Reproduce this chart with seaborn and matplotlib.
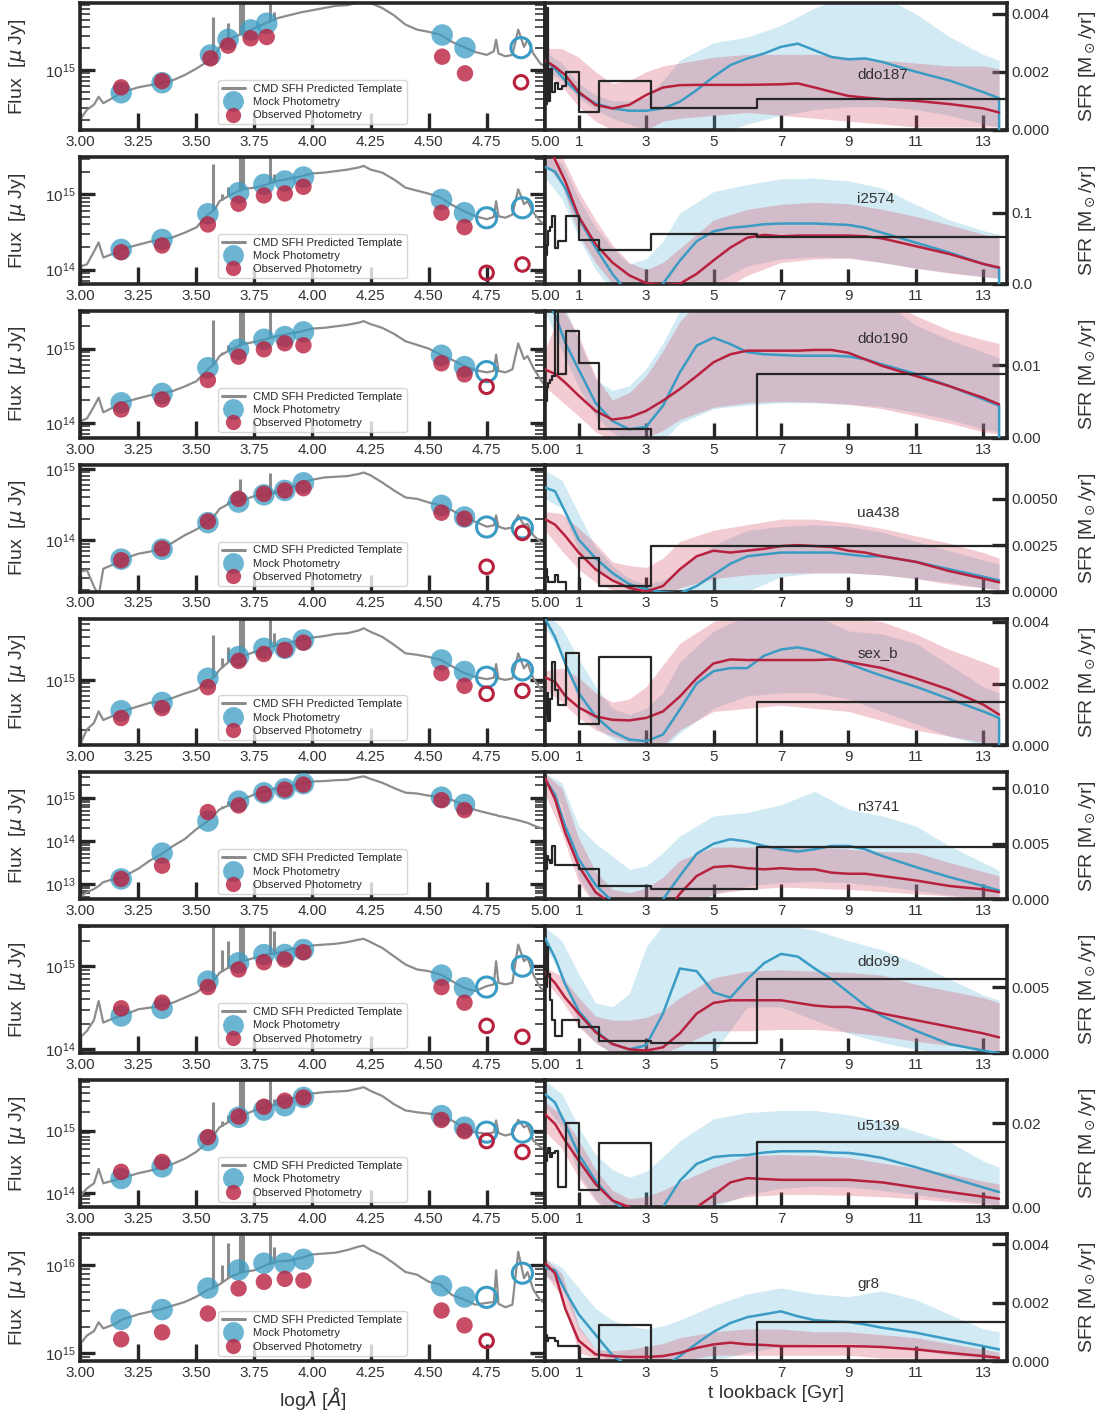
import numpy as np
import matplotlib
matplotlib.use("Agg")
import matplotlib.pyplot as plt
from matplotlib.lines import Line2D
from matplotlib.ticker import LogLocator, NullFormatter, FormatStrFormatter
import seaborn as sns

# ---------------------------------------------------------------- data
galaxies = ["ddo187", "i2574", "ddo190", "ua438", "sex_b", "n3741", "ddo99", "u5139", "gr8"]

# photometric band centres, log10(lambda / Angstrom)
bands_std = [3.177, 3.353, 3.550, 3.682, 3.791, 3.881, 3.961, 4.555, 4.654, 4.749, 4.903]
bands_ddo187 = [3.177, 3.353, 3.561, 3.637, 3.734, 3.803, 4.558, 4.656, 4.897]

# template wavelength grid (log10 Angstrom) and emission-line positions
sed_grid = [3.00, 3.03, 3.06, 3.08, 3.10, 3.15, 3.18, 3.25, 3.30, 3.35, 3.40, 3.45, 3.50,
            3.55, 3.58, 3.60, 3.65, 3.70, 3.75, 3.80, 3.85, 3.90, 3.95, 4.00, 4.05, 4.10,
            4.15, 4.20, 4.22, 4.25, 4.30, 4.35, 4.40, 4.45, 4.50, 4.55, 4.60, 4.65, 4.70,
            4.75, 4.78, 4.79, 4.80, 4.83, 4.86, 4.885, 4.91, 4.925, 4.95, 4.98, 5.00]
line_wave = [3.571, 3.612, 3.638, 3.687, 3.700, 3.817, 3.835]

# lookback-time grids (Gyr)
t_med = [0, 0.3, 0.6, 1, 1.5, 2, 2.5, 3, 3.5, 4, 4.5, 5, 5.5, 6, 6.5, 7, 7.5, 8, 8.5, 9,
         9.5, 10, 11, 12, 13, 13.47]
t_band = [0, 0.5, 1, 1.5, 2, 2.5, 3, 3.5, 4, 5, 6, 7, 8, 9, 10, 11, 12, 13, 13.47]
cmd_edges = [0, 0.05, 0.1, 0.15, 0.2, 0.3, 0.4, 0.5, 0.63, 0.8, 1.0, 1.6, 3.16, 6.3, 14.1]

# --- ddo187
ddo187_sed = [14.31, 14.45, 14.52, 14.63, 14.54, 14.63, 14.69, 14.76, 14.79, 14.82, 14.86, 14.93, 15.02,
              15.12, 15.19, 15.32, 15.44, 15.51, 15.58, 15.65, 15.72, 15.76, 15.80, 15.83, 15.86, 15.89,
              15.90, 15.94, 15.95, 15.93, 15.86, 15.76, 15.63, 15.56, 15.53, 15.49, 15.39, 15.32, 15.25,
              15.21, 15.26, 15.42, 15.23, 15.19, 15.21, 15.56, 15.32, 15.42, 15.23, 15.09, 15.05]
ddo187_lines = [15.74, 15.35, 15.65, 16.0, 16.0, 16.0, 15.81]
ddo187_mock = [14.685, 14.824, 15.208, 15.426, 15.556, 15.648, 15.486, 15.31, 15.31]
ddo187_obs = [14.76, 14.847, 15.162, 15.338, 15.44, 15.458, 15.185, 14.954, 14.83]
ddo187_cmd = [0.0009, 0.0042, 0.0010, 0.0021, 0.0013, 0.0016, 0.0014, 0.0015, 0.0020, 0.0020,
              0.00063, 0.0017, 0.00074, 0.00106]
ddo187_blue_med = [0.0024, 0.0021, 0.0017, 0.00126, 0.00091, 0.00074, 0.00066, 0.00066, 0.00074, 0.00097,
                   0.00137, 0.00183, 0.00223, 0.00246, 0.00263, 0.00286, 0.00297, 0.00274, 0.00251, 0.00243,
                   0.00246, 0.00234, 0.0020, 0.0017, 0.0013, 0.00109]
ddo187_red_med = [0.0024, 0.00217, 0.00189, 0.00131, 0.00086, 0.00074, 0.00086, 0.0012, 0.00146, 0.00154,
                  0.00155, 0.00155, 0.00155, 0.00155, 0.00156, 0.00157, 0.0016, 0.00146, 0.00131, 0.00117,
                  0.00111, 0.00106, 0.001, 0.00089, 0.00074, 0.0006]
ddo187_blue_lo = [0.0021, 0.0017, 0.0011, 0.0007, 0.0004, 0.0002, 0.0, -0.0003, -0.0004, -0.0002,
                  0.0002, 0.0005, 0.0007, 0.0008, 0.0008, 0.0007, 0.0005, 0.0002, 0.0001]
ddo187_blue_hi = [0.0027, 0.0023, 0.0016, 0.0012, 0.0010, 0.0010, 0.0011, 0.0017, 0.0024, 0.0030,
                  0.0032, 0.0036, 0.0042, 0.0046, 0.0046, 0.0040, 0.0032, 0.0026, 0.0024]
ddo187_red_lo = [0.0020, 0.0015, 0.0008, 0.0003, 0.0, -0.0001, 0.0, 0.0003, 0.0004, 0.0005,
                 0.0006, 0.0005, 0.0004, 0.0003, 0.0002, 0.0001, 0.0001, 0.0001, 0.0001]
ddo187_red_hi = [0.0028, 0.0028, 0.0025, 0.0020, 0.0016, 0.0017, 0.0020, 0.0022, 0.0023, 0.0025,
                 0.0026, 0.0026, 0.0026, 0.0025, 0.0024, 0.0023, 0.0022, 0.0022, 0.0021]

# --- i2574
i2574_sed = [14.04, 14.07, 14.24, 14.36, 14.16, 14.22, 14.27, 14.33, 14.37, 14.40, 14.43, 14.49, 14.56,
             14.73, 14.80, 14.91, 15.00, 15.07, 15.09, 15.13, 15.18, 15.21, 15.24, 15.28, 15.29, 15.31,
             15.33, 15.36, 15.38, 15.33, 15.29, 15.20, 15.09, 15.05, 15.01, 14.96, 14.86, 14.78, 14.71,
             14.67, 14.70, 14.91, 14.71, 14.69, 14.73, 15.07, 14.87, 14.91, 14.76, 14.64, 14.60]
i2574_lines = [15.40, 15.00, 15.10, 15.60, 15.60, 15.60, 15.27]
i2574_mock = [14.267, 14.40, 14.742, 15.022, 15.133, 15.178, 15.231, 14.933, 14.756, 14.689, 14.822]
i2574_obs = [14.231, 14.32, 14.60, 14.876, 14.987, 15.013, 15.102, 14.756, 14.564, 13.956, 14.067]
i2574_cmd = [0.04, 0.055, 0.075, 0.08, 0.095, 0.05, 0.06, 0.06, 0.095, 0.095, 0.0614, 0.0474, 0.0707, 0.066]
i2574_blue_med = [0.165, 0.158, 0.135, 0.093, 0.051, 0.014, -0.015, -0.02, 0.0, 0.0326, 0.06, 0.074, 0.079,
                  0.081, 0.084, 0.085, 0.085, 0.085, 0.084, 0.083, 0.079, 0.072, 0.058, 0.044, 0.028, 0.022]
i2574_red_med = [0.2, 0.175, 0.145, 0.095, 0.056, 0.03, 0.012, 0.001, -0.002, 0.0, 0.014, 0.033, 0.051,
                 0.065, 0.069, 0.067, 0.068, 0.068, 0.068, 0.068, 0.067, 0.064, 0.053, 0.042, 0.028, 0.023]
i2574_blue_lo = [0.15, 0.12, 0.065, 0.02, -0.01, -0.03, -0.035, -0.03, -0.02, 0.0, 0.025, 0.035, 0.038,
                 0.037, 0.03, 0.022, 0.016, 0.01, 0.008]
i2574_blue_hi = [0.18, 0.17, 0.12, 0.08, 0.05, 0.028, 0.035, 0.06, 0.10, 0.13, 0.14, 0.148, 0.149, 0.145,
                 0.135, 0.112, 0.09, 0.075, 0.07]
i2574_red_lo = [0.17, 0.14, 0.07, 0.03, 0.0, -0.02, -0.03, -0.035, -0.04, -0.015, 0.012, 0.03, 0.035,
                0.036, 0.03, 0.022, 0.015, 0.01, 0.008]
i2574_red_hi = [0.2, 0.18, 0.13, 0.09, 0.055, 0.03, 0.02, 0.03, 0.05, 0.09, 0.105, 0.112, 0.115, 0.113,
                0.105, 0.095, 0.083, 0.07, 0.065]

# --- ddo190
ddo190_sed = [14.02, 14.06, 14.22, 14.34, 14.14, 14.22, 14.27, 14.33, 14.37, 14.40, 14.43, 14.49, 14.56,
              14.72, 14.80, 14.90, 14.99, 15.06, 15.09, 15.13, 15.17, 15.20, 15.23, 15.27, 15.28, 15.30,
              15.32, 15.35, 15.37, 15.33, 15.28, 15.20, 15.10, 15.05, 15.00, 14.92, 14.85, 14.77, 14.71,
              14.68, 14.70, 14.92, 14.70, 14.68, 14.72, 15.07, 14.86, 14.90, 14.74, 14.59, 14.50]
ddo190_lines = [15.38, 14.95, 15.05, 15.55, 15.55, 15.55, 15.10]
ddo190_mock = [14.27, 14.396, 14.743, 14.991, 15.126, 15.162, 15.225, 14.91, 14.757, 14.69, np.nan]
ddo190_obs = [14.18, 14.315, 14.577, 14.892, 14.991, 15.072, 15.045, 14.802, 14.653, 14.486, np.nan]
ddo190_cmd = [0.005, 0.007, 0.0075, 0.008, 0.0085, 0.0174, 0.0088, 0.0088, 0.0147, 0.0147, 0.0103,
              0.00115, 0.0, 0.0088]
ddo190_blue_med = [0.019, 0.017, 0.0131, 0.0094, 0.0048, 0.0023, 0.00115, 0.0015, 0.0044, 0.009, 0.0127,
                   0.0138, 0.0129, 0.0118, 0.0115, 0.0114, 0.0113, 0.0113, 0.0113, 0.0112, 0.0108, 0.0101,
                   0.0088, 0.0071, 0.0053, 0.0044]
ddo190_red_med = [0.0094, 0.0088, 0.0076, 0.0058, 0.0037, 0.0025, 0.0028, 0.0037, 0.0051, 0.0067, 0.0085,
                  0.0104, 0.0115, 0.012, 0.012, 0.012, 0.012, 0.0121, 0.0121, 0.0117, 0.0108, 0.0099,
                  0.0085, 0.0071, 0.0055, 0.0046]
ddo190_blue_lo = [0.0175, 0.012, 0.007, 0.003, 0.0007, -0.0005, -0.0015, -0.0005, 0.002, 0.004, 0.0045,
                  0.0048, 0.0048, 0.0046, 0.0043, 0.0035, 0.0025, 0.0012, 0.0008]
ddo190_blue_hi = [0.02, 0.019, 0.0135, 0.008, 0.0065, 0.0072, 0.0095, 0.013, 0.0175, 0.021, 0.021, 0.021,
                  0.021, 0.021, 0.019, 0.0155, 0.0135, 0.0118, 0.011]
ddo190_red_lo = [0.007, 0.005, 0.003, 0.0008, -0.0003, -0.0005, 0.0, 0.001, 0.0025, 0.0042, 0.0048, 0.005,
                 0.0049, 0.0046, 0.004, 0.003, 0.002, 0.0008, 0.0005]
ddo190_red_hi = [0.012, 0.018, 0.014, 0.0085, 0.0052, 0.0062, 0.0085, 0.012, 0.016, 0.021, 0.021, 0.021,
                 0.021, 0.021, 0.0195, 0.0168, 0.0148, 0.0135, 0.013]

# --- ua438
ua438_sed = [13.56, 13.58, 13.35, 13.22, 13.60, 13.67, 13.73, 13.81, 13.84, 13.88, 13.97, 14.07, 14.15,
             14.26, 14.35, 14.44, 14.53, 14.56, 14.62, 14.64, 14.67, 14.73, 14.80, 14.85, 14.88, 14.89,
             14.90, 14.93, 14.95, 14.91, 14.81, 14.70, 14.60, 14.58, 14.53, 14.49, 14.42, 14.33, 14.26,
             14.19, 14.21, 14.35, 14.19, 14.16, 14.18, 14.35, 14.21, 14.23, 14.07, 13.98, 13.93]
ua438_lines = [14.32, 14.46, 14.55, 14.86, 14.62, 14.95, 14.70]
ua438_mock = [13.735, 13.874, 14.247, 14.535, 14.637, 14.698, 14.805, 14.488, 14.326, 14.186, 14.172]
ua438_obs = [13.72, 13.884, 14.265, 14.581, 14.651, 14.698, 14.73, 14.386, 14.302, 13.628, 14.102]
ua438_cmd = [0.0012, 0.0008, 0.0005, 0.0005, 0.0005, 0.0009, 0.0005, 0.0005, 0.0, 0.0, 0.0018,
             0.00032, 0.00245, 0.00245]
ua438_blue_med = [0.0056, 0.0054, 0.0043, 0.0028, 0.0018, 0.001, 0.0004, 0.00014, -0.00004, -0.0001,
                  0.0003, 0.0009, 0.0015, 0.0019, 0.002, 0.0021, 0.0021, 0.0021, 0.0021, 0.002, 0.0019,
                  0.0019, 0.0016, 0.0012, 0.0008, 0.0006]
ua438_red_med = [0.0039, 0.0036, 0.003, 0.0021, 0.0012, 0.0006, 0.0002, 0.0, 0.0003, 0.0012, 0.0019,
                 0.0022, 0.0021, 0.0022, 0.0023, 0.00245, 0.0025, 0.00245, 0.0024, 0.0022, 0.0021, 0.0019,
                 0.0016, 0.0011, 0.0007, 0.0005]
ua438_blue_lo = [0.005, 0.0045, 0.0022, 0.0012, 0.0006, 0.0001, -0.0002, -0.0008, -0.001, -0.0004, 0.0,
                 0.0008, 0.001, 0.001, 0.0009, 0.0007, 0.0005, 0.0002, 0.0001]
ua438_blue_hi = [0.0065, 0.006, 0.0042, 0.0024, 0.0014, 0.0007, 0.0004, 0.0006, 0.0012, 0.0025, 0.0033,
                 0.0035, 0.0036, 0.0035, 0.0032, 0.0027, 0.0022, 0.0017, 0.0015]
ua438_red_lo = [0.0033, 0.0022, 0.0012, 0.0005, 0.0001, -0.0002, -0.0003, -0.0002, 0.0002, 0.0007, 0.0009,
                0.001, 0.001, 0.001, 0.0009, 0.0007, 0.0004, 0.0002, 0.0001]
ua438_red_hi = [0.0043, 0.0042, 0.0034, 0.0026, 0.0016, 0.0014, 0.0013, 0.0018, 0.0027, 0.0033, 0.0036,
                0.0039, 0.0039, 0.0037, 0.0034, 0.003, 0.0026, 0.0021, 0.0018]

# --- sex_b
sex_b_sed = [14.10, 14.31, 14.40, 14.56, 14.44, 14.51, 14.56, 14.63, 14.68, 14.70, 14.75, 14.81, 14.86,
             14.98, 15.05, 15.14, 15.28, 15.33, 15.39, 15.44, 15.49, 15.52, 15.56, 15.59, 15.61, 15.64,
             15.65, 15.69, 15.72, 15.67, 15.60, 15.49, 15.37, 15.35, 15.32, 15.28, 15.19, 15.10, 15.04,
             15.01, 15.03, 15.22, 15.02, 15.00, 15.02, 15.37, 15.16, 15.23, 15.02, 14.88, 14.84]
sex_b_lines = [15.63, 15.30, 15.46, 15.90, 15.90, 15.90, 15.65]
sex_b_mock = [14.569, 14.685, 15.023, 15.324, 15.44, 15.44, 15.556, 15.278, 15.116, 15.037, 15.139]
sex_b_obs = [14.468, 14.606, 14.898, 15.264, 15.361, 15.417, 15.519, 15.093, 14.917, 14.806, 14.847]
sex_b_cmd = [0.0010, 0.0017, 0.0008, 0.0015, 0.0027, 0.0018, 0.0013, 0.0013, 0.0030, 0.0030, 0.0007,
             0.00287, 0.0, 0.00142]
sex_b_blue_med = [0.0041, 0.0035, 0.00265, 0.0017, 0.00094, 0.00046, 0.00019, 0.00014, 0.00035, 0.00116,
                  0.002, 0.0024, 0.0025, 0.0025, 0.0029, 0.0031, 0.00317, 0.00306, 0.00287, 0.00265,
                  0.00244, 0.00225, 0.0019, 0.0015, 0.0011, 0.00089]
sex_b_red_med = [0.0022, 0.00206, 0.0016, 0.00123, 0.00094, 0.00083, 0.00081, 0.00089, 0.0011, 0.00158,
                 0.00217, 0.00265, 0.00278, 0.00276, 0.00276, 0.00276, 0.00276, 0.00276, 0.00278, 0.0027,
                 0.0026, 0.0025, 0.00217, 0.0018, 0.00132, 0.001]
sex_b_blue_lo = [0.0038, 0.003, 0.0014, 0.0006, 0.0002, -0.0001, -0.0002, -0.0001, 0.0004, 0.0012, 0.0016,
                 0.0017, 0.0017, 0.0015, 0.0011, 0.0007, 0.0003, 0.0, 0.0]
sex_b_blue_hi = [0.0043, 0.0038, 0.0028, 0.0019, 0.0012, 0.001, 0.0012, 0.0017, 0.0027, 0.0037, 0.0042,
                 0.0044, 0.0042, 0.0037, 0.0036, 0.0033, 0.0026, 0.0019, 0.0017]
sex_b_red_lo = [0.0018, 0.0014, 0.0009, 0.0005, 0.0003, 0.0001, 0.0, 0.0, 0.0005, 0.0011, 0.0012, 0.0013,
                0.0012, 0.0011, 0.0008, 0.0005, 0.0003, 0.0001, 0.0]
sex_b_red_hi = [0.0024, 0.0025, 0.0022, 0.0017, 0.0014, 0.0015, 0.0019, 0.0026, 0.0033, 0.004, 0.0043,
                0.0043, 0.0042, 0.0041, 0.004, 0.0036, 0.0031, 0.0027, 0.0025]

# --- n3741
n3741_sed = [12.69, 12.81, 12.88, 12.95, 13.04, 13.12, 13.15, 13.35, 13.54, 13.69, 13.88, 14.04, 14.27,
             14.46, 14.62, 14.73, 14.85, 14.96, 15.08, 15.15, 15.23, 15.27, 15.33, 15.38, 15.39, 15.41,
             15.42, 15.48, 15.50, 15.44, 15.35, 15.23, 15.12, 15.10, 15.05, 15.02, 14.95, 14.84, 14.72,
             14.65, 14.61, 14.60, 14.58, 14.55, 14.51, 14.48, 14.44, 14.42, 14.36, 14.30, 14.27]
n3741_lines = [14.55, 14.80, 14.92, 15.05, 15.00, 15.20, 15.25]
n3741_mock = [13.115, 13.715, 14.46, 14.923, 15.115, 15.208, 15.33, 15.015, 14.846, np.nan, np.nan]
n3741_obs = [13.115, 13.423, 14.669, 14.823, 15.092, 15.192, 15.308, 14.946, 14.715, np.nan, np.nan]
n3741_cmd = [0.0027, 0.0039, 0.0035, 0.0033, 0.0048, 0.0031, 0.0031, 0.0031, 0.0031, 0.0031, 0.0027,
             0.0012, 0.0009, 0.0047]
n3741_blue_med = [0.0108, 0.0094, 0.0066, 0.0036, 0.0013, -0.0002, -0.0011, -0.0012, 0.0, 0.0021, 0.0041,
                  0.005, 0.0054, 0.0052, 0.0048, 0.0045, 0.0043, 0.0045, 0.0048, 0.0048, 0.0045, 0.0039,
                  0.0029, 0.002, 0.0012, 0.0008]
n3741_red_med = [0.0109, 0.009, 0.006, 0.003, 0.00065, -0.0005, -0.0015, -0.0018, -0.0015, 0.0005, 0.0021,
                 0.0029, 0.003, 0.0028, 0.0027, 0.0028, 0.0027, 0.0027, 0.0024, 0.0023, 0.0023, 0.0021,
                 0.0017, 0.0012, 0.0009, 0.00065]
n3741_blue_lo = [0.0105, 0.0085, 0.002, -0.0005, -0.002, -0.002, -0.002, -0.002, -0.002, 0.0005, 0.0012,
                 0.0015, 0.0016, 0.0015, 0.0012, 0.0008, 0.0004, 0.0001, 0.0]
n3741_blue_hi = [0.0113, 0.0105, 0.0066, 0.005, 0.0039, 0.0027, 0.003, 0.0042, 0.0057, 0.0075, 0.0078,
                 0.0085, 0.0097, 0.0081, 0.0075, 0.0066, 0.0048, 0.0033, 0.0026]
n3741_red_lo = [0.0095, 0.006, 0.0015, -0.0005, -0.001, -0.0015, -0.0015, -0.0012, -0.001, 0.0005, 0.0009,
                0.0011, 0.001, 0.0009, 0.0007, 0.0005, 0.0003, 0.0001, 0.0]
n3741_red_hi = [0.0113, 0.01, 0.0055, 0.0025, 0.0009, 0.0006, 0.001, 0.002, 0.0035, 0.0047, 0.0047, 0.0047,
                0.0047, 0.0045, 0.0043, 0.0042, 0.0033, 0.0025, 0.0021]

# --- ddo99
ddo99_sed = [14.14, 14.22, 14.35, 14.58, 14.32, 14.38, 14.40, 14.48, 14.50, 14.52, 14.56, 14.62, 14.68,
             14.78, 14.84, 14.92, 15.00, 15.06, 15.10, 15.14, 15.16, 15.20, 15.22, 15.25, 15.26, 15.27,
             15.29, 15.32, 15.33, 15.29, 15.22, 15.12, 15.02, 14.96, 14.94, 14.90, 14.82, 14.74, 14.70,
             14.76, 14.78, 15.06, 14.80, 14.78, 14.80, 15.26, 15.06, 15.10, 14.90, 14.74, 14.70]
ddo99_lines = [15.48, 15.20, 15.30, 15.48, 15.48, 15.48, 15.42]
ddo99_mock = [14.4, 14.492, 14.82, 15.04, 15.14, 15.14, 15.2, 14.892, 14.74, 14.748, 15.0]
ddo99_obs = [14.492, 14.56, 14.748, 14.96, 15.048, 15.08, 15.168, 14.748, 14.56, 14.28, 14.148]
ddo99_cmd = [0.005, 0.008, 0.006, 0.004, 0.0025, 0.0013, 0.0013, 0.0025, 0.0025, 0.0025, 0.002,
             0.00095, 0.00078, 0.0056]
ddo99_blue_med = [0.0087, 0.0072, 0.0052, 0.0032, 0.0017, 0.0007, 0.0003, 0.0006, 0.003, 0.0064, 0.0062,
                  0.0046, 0.0042, 0.0056, 0.0068, 0.0075, 0.0073, 0.0064, 0.0056, 0.0046, 0.0036, 0.0028,
                  0.0017, 0.0007, 0.0002, 0.0]
ddo99_red_med = [0.0061, 0.0053, 0.0042, 0.003, 0.0016, 0.0007, 0.0003, 0.0002, 0.00045, 0.0015, 0.003,
                 0.0038, 0.004, 0.004, 0.004, 0.004, 0.0038, 0.0036, 0.0035, 0.0035, 0.0033, 0.003, 0.0025,
                 0.002, 0.0015, 0.0012]
ddo99_blue_lo = [0.008, 0.006, 0.0022, 0.0008, 0.0, -0.0005, -0.001, -0.0008, 0.0, 0.0, 0.0035, 0.0035,
                 0.0025, 0.0015, 0.0008, 0.0003, 0.0, -0.0002, -0.0002]
ddo99_blue_hi = [0.0095, 0.0085, 0.006, 0.0038, 0.0035, 0.0045, 0.008, 0.0097, 0.0097, 0.0097, 0.0096,
                 0.0097, 0.0093, 0.0085, 0.0078, 0.0068, 0.0056, 0.0044, 0.004]
ddo99_red_lo = [0.0055, 0.004, 0.002, 0.0008, 0.0, -0.0003, -0.0003, 0.0, 0.0005, 0.0017, 0.0017, 0.0018,
                0.0018, 0.0016, 0.0013, 0.0009, 0.0006, 0.0003, 0.0002]
ddo99_red_hi = [0.0065, 0.0058, 0.0042, 0.0028, 0.0025, 0.0025, 0.0027, 0.0032, 0.0042, 0.0057, 0.0062,
                0.0063, 0.0062, 0.0061, 0.0059, 0.0052, 0.0047, 0.0042, 0.0038]

# --- u5139
u5139_sed = [13.95, 14.08, 14.16, 14.39, 14.16, 14.21, 14.24, 14.32, 14.36, 14.41, 14.47, 14.55, 14.66,
             14.82, 14.95, 15.05, 15.16, 15.24, 15.32, 15.37, 15.42, 15.50, 15.55, 15.59, 15.61, 15.62,
             15.63, 15.67, 15.69, 15.63, 15.55, 15.42, 15.32, 15.29, 15.27, 15.24, 15.16, 15.05, 14.97,
             14.95, 14.97, 15.16, 14.96, 14.92, 14.95, 15.17, 15.05, 15.09, 14.84, 14.74, 14.71]
u5139_lines = [15.45, 15.15, 15.25, 15.80, 15.80, 15.80, 15.50]
u5139_mock = [14.237, 14.421, 14.842, 15.211, 15.326, 15.395, 15.526, 15.237, 15.053, 14.974, 14.974]
u5139_obs = [14.342, 14.5, 14.895, 15.221, 15.379, 15.474, 15.526, 15.168, 14.989, 14.832, 14.658]
u5139_cmd = [0.011, 0.013, 0.014, 0.012, 0.013, 0.0134, 0.0047, 0.0047, 0.02, 0.02, 0.0041, 0.0152, 0.0, 0.0154]
u5139_blue_med = [0.0269, 0.0249, 0.0198, 0.0126, 0.0063, 0.0016, -0.0016, -0.003, 0.0, 0.0063, 0.0103,
                  0.0119, 0.0123, 0.0124, 0.013, 0.0133, 0.0133, 0.0133, 0.013, 0.0129, 0.0124, 0.0117,
                  0.0095, 0.0071, 0.0047, 0.0036]
u5139_red_med = [0.0221, 0.0198, 0.0158, 0.0111, 0.0055, 0.0016, 0.0, -0.003, -0.004, -0.003, 0.0, 0.0028,
                 0.0059, 0.0069, 0.0067, 0.0065, 0.0065, 0.0065, 0.0065, 0.0065, 0.0062, 0.0059, 0.0047,
                 0.0036, 0.0025, 0.002]
u5139_blue_lo = [0.024, 0.019, 0.008, 0.002, -0.002, -0.003, -0.003, -0.003, -0.003, 0.0, 0.003, 0.0045,
                 0.005, 0.0048, 0.004, 0.003, 0.002, 0.001, 0.0005]
u5139_blue_hi = [0.03, 0.027, 0.019, 0.0125, 0.009, 0.0071, 0.0085, 0.012, 0.0158, 0.021, 0.0225, 0.023,
                 0.023, 0.022, 0.0205, 0.018, 0.0155, 0.011, 0.0095]
u5139_red_lo = [0.018, 0.014, 0.007, 0.0015, -0.002, -0.003, -0.003, -0.003, -0.002, 0.0008, 0.0025, 0.003,
                0.003, 0.0028, 0.0025, 0.002, 0.0013, 0.0007, 0.0005]
u5139_red_hi = [0.025, 0.022, 0.016, 0.009, 0.004, 0.002, 0.0025, 0.004, 0.006, 0.0095, 0.0122, 0.0125,
                0.0123, 0.0118, 0.0105, 0.0093, 0.008, 0.0062, 0.0055]

# --- gr8
gr8_sed = [15.10, 15.20, 15.25, 15.35, 15.28, 15.33, 15.38, 15.44, 15.47, 15.50, 15.54, 15.58, 15.64,
           15.72, 15.75, 15.78, 15.87, 15.92, 15.94, 16.00, 16.04, 16.05, 16.08, 16.12, 16.13, 16.14,
           16.17, 16.21, 16.22, 16.17, 16.11, 16.02, 15.92, 15.89, 15.81, 15.78, 15.66, 15.61, 15.55,
           15.57, 15.58, 15.94, 15.56, 15.52, 15.55, 16.15, 15.85, 15.92, 15.72, 15.60, 15.57]
gr8_lines = [16.35, 16.00, 16.25, 16.35, 16.35, 16.35, 16.20]
gr8_mock = [15.382, 15.494, 15.738, 15.944, 16.02, 16.02, 16.064, 15.764, 15.637, 15.633, 15.907]
gr8_obs = [15.157, 15.236, 15.449, 15.734, 15.809, 15.843, 15.824, 15.483, 15.315, 15.138, np.nan]
gr8_cmd = [0.0009, 0.0007, 0.0008, 0.0008, 0.0008, 0.0007, 0.0005, 0.0005, 0.0005, 0.0005, 0.00006,
           0.00125, 0.0, 0.00133]
gr8_blue_med = [0.0032, 0.0031, 0.0024, 0.0016, 0.0009, 0.0002, -0.0002, -0.0003, -0.0002, 0.00017, 0.0006,
                0.001, 0.0013, 0.0015, 0.0016, 0.0017, 0.00153, 0.0014, 0.00136, 0.00134, 0.00125, 0.00114,
                0.00097, 0.00074, 0.00051, 0.0004]
gr8_red_med = [0.00335, 0.003, 0.0018, 0.0007, 0.00023, 0.00017, 0.00014, 0.00014, 0.00017, 0.00028,
               0.00045, 0.00057, 0.00063, 0.00057, 0.00055, 0.00051, 0.00051, 0.00051, 0.00051, 0.00051,
               0.0005, 0.00048, 0.0004, 0.00028, 0.00017, 0.00011]
gr8_blue_lo = [0.0029, 0.0026, 0.0011, 0.0004, -0.0001, -0.0003, -0.0003, -0.0003, -0.0003, 0.0, 0.0003,
               0.0005, 0.0006, 0.0006, 0.0005, 0.0004, 0.0002, 0.0001, 0.0]
gr8_blue_hi = [0.0035, 0.0032, 0.0025, 0.0018, 0.0014, 0.0012, 0.0011, 0.0012, 0.0014, 0.0019, 0.0023,
               0.0025, 0.0023, 0.0022, 0.0024, 0.0021, 0.0016, 0.0011, 0.001]
gr8_red_lo = [0.003, 0.0022, 0.0003, 0.0001, 0.0, 0.0, 0.0, 0.0, 0.0, 0.0002, 0.0002, 0.0002, 0.0002,
              0.0002, 0.0001, 0.0001, 0.0, 0.0, 0.0]
gr8_red_hi = [0.0035, 0.003, 0.0012, 0.0004, 0.00035, 0.0004, 0.0005, 0.0006, 0.0008, 0.001, 0.0011,
              0.0011, 0.001, 0.001, 0.0009, 0.0008, 0.0006, 0.0004, 0.0003]

# galaxies whose blue median is cut to zero at the oldest bin edge
blue_cut = ["ddo187", "i2574", "ddo190", "sex_b"]

# axis ranges and ticks per row
sed_ylim_log = [(14.17, 15.93), (13.81, 15.50), (13.80, 15.51), (13.28, 15.06), (14.085, 15.855),
                (12.64, 15.59), (13.95, 15.48), (13.78, 15.80), (14.91, 16.35)]
sfr_ymax = [0.00437, 0.179, 0.0175, 0.00683, 0.0041, 0.0114, 0.00958, 0.0302, 0.00434]
sfr_ticks = [[0, 0.002, 0.004], [0, 0.1], [0, 0.01], [0, 0.0025, 0.005], [0, 0.002, 0.004],
             [0, 0.005, 0.01], [0, 0.005], [0, 0.02], [0, 0.002, 0.004]]
name_ypos = [0.43, 0.67, 0.78, 0.62, 0.73, 0.73, 0.72, 0.64, 0.61]
sed_xticks = [3.00, 3.25, 3.50, 3.75, 4.00, 4.25, 4.50, 4.75, 5.00]
sfh_xticks = [1, 3, 5, 7, 9, 11, 13]

# ---------------------------------------------------------------- style
sns.set_style("ticks")
plt.rcParams["font.family"] = ["Liberation Sans", "DejaVu Sans"]
plt.rcParams["mathtext.fontset"] = "dejavusans"

BLUE = "#3a9cc4"
RED = "#b8213e"
BAND_BLUE = "#5ab4d6"
BAND_RED = "#d6455f"
TEMPLATE = "#8c8c8c"
INK = "#262626"
LABEL = "#333333"

fig, axes = plt.subplots(9, 2, figsize=(11.04, 14.16), dpi=100,
                         gridspec_kw=dict(width_ratios=[465, 462]))
fig.subplots_adjust(left=0.0725, right=0.912, top=0.9979, bottom=0.0388,
                    hspace=0.2126, wspace=0.0)

legend_handles = [
    Line2D([], [], color=TEMPLATE, lw=2.2),
    Line2D([], [], ls="", marker="o", ms=15, color=BLUE, alpha=0.75, mec="none"),
    Line2D([], [], ls="", marker="o", ms=11, color=RED, alpha=0.8, mec="none"),
]
legend_labels = ["CMD SFH Predicted Template", "Mock Photometry", "Observed Photometry"]

for i, name in enumerate(galaxies):
    g = globals()
    axl, axr = axes[i]

    # ---------------- SED panel
    axl.set_yscale("log")
    sed = np.array(g[f"{name}_sed"])
    sns.lineplot(x=sed_grid, y=10 ** sed, ax=axl, color=TEMPLATE, lw=1.6,
                 estimator=None, sort=False, legend=False, zorder=2)
    cont = np.interp(line_wave, sed_grid, sed)
    peak = np.maximum(np.array(g[f"{name}_lines"]), cont)
    axl.vlines(line_wave, 10 ** cont, 10 ** peak, color=TEMPLATE, lw=2.2, zorder=2)

    bands = np.array(bands_ddo187 if name == "ddo187" else bands_std)
    mock = np.array(g[f"{name}_mock"], dtype=float)
    obs = np.array(g[f"{name}_obs"], dtype=float)
    filled = bands < 4.7
    sns.scatterplot(x=bands[filled], y=10 ** mock[filled], s=240, color=BLUE, alpha=0.75,
                    edgecolor="none", ax=axl, legend=False, zorder=3)
    sns.scatterplot(x=bands[filled], y=10 ** obs[filled], s=140, color=RED, alpha=0.8,
                    edgecolor="none", ax=axl, legend=False, zorder=4)
    axl.scatter(bands[~filled], 10 ** mock[~filled], s=210, facecolors="none",
                edgecolors=BLUE, linewidths=2.2, zorder=3)
    axl.scatter(bands[~filled], 10 ** obs[~filled], s=95, facecolors="none",
                edgecolors=RED, linewidths=2.2, zorder=4)

    lo, hi = sed_ylim_log[i]
    axl.set_xlim(3.0, 5.0)
    axl.set_ylim(10 ** lo, 10 ** hi)
    axl.set_xticks(sed_xticks)
    axl.xaxis.set_major_formatter(FormatStrFormatter("%.2f"))
    axl.yaxis.set_major_locator(LogLocator(base=10))
    axl.yaxis.set_minor_locator(LogLocator(base=10, subs=np.arange(2, 10)))
    axl.yaxis.set_minor_formatter(NullFormatter())
    axl.tick_params(axis="y", which="both", direction="in", left=True, right=True)
    axl.tick_params(axis="y", which="major", length=11, width=2.4)
    axl.tick_params(axis="y", which="minor", length=7, width=1.1)
    axl.tick_params(axis="x", which="major", direction="in", length=12, width=2.4,
                    bottom=True, top=False)
    axl.tick_params(axis="both", labelsize=11, colors=INK, labelcolor=LABEL)
    axl.set_ylabel(r"Flux  [$\mu$ Jy]", fontsize=14, color=LABEL)
    axl.yaxis.set_label_coords(-0.112, 0.5)
    axl.legend(legend_handles, legend_labels, loc="lower center", fontsize=8,
               frameon=True, framealpha=0.8, edgecolor="0.8", labelspacing=0.3,
               borderpad=0.35, handlelength=2.0, handletextpad=0.8)

    # ---------------- SFH panel
    axr.fill_between(t_band, g[f"{name}_blue_lo"], g[f"{name}_blue_hi"],
                     color=BAND_BLUE, alpha=0.28, lw=0, zorder=1)
    axr.fill_between(t_band, g[f"{name}_red_lo"], g[f"{name}_red_hi"],
                     color=BAND_RED, alpha=0.28, lw=0, zorder=1)
    bx = list(t_med)
    by = list(g[f"{name}_blue_med"])
    if name in blue_cut:
        bx.append(t_med[-1])
        by.append(0.0)
    sns.lineplot(x=bx, y=by, ax=axr, color=BLUE, lw=1.8, estimator=None, sort=False,
                 legend=False, zorder=3)
    sns.lineplot(x=t_med, y=g[f"{name}_red_med"], ax=axr, color=RED, lw=1.8,
                 estimator=None, sort=False, legend=False, zorder=3)
    cmd = list(g[f"{name}_cmd"])
    sns.lineplot(x=cmd_edges, y=cmd + [cmd[-1]], ax=axr, color=INK, lw=1.6,
                 drawstyle="steps-post", estimator=None, sort=False, legend=False, zorder=4)

    axr.set_xlim(0, 13.7)
    axr.set_ylim(0, sfr_ymax[i])
    axr.set_xticks(sfh_xticks)
    axr.set_yticks(sfr_ticks[i])
    axr.yaxis.tick_right()
    axr.yaxis.set_label_position("right")
    axr.tick_params(axis="both", which="major", direction="in", length=11, width=2.4,
                    labelsize=11, colors=INK, labelcolor=LABEL)
    axr.tick_params(axis="y", left=False, right=True)
    axr.set_ylabel(r"SFR [M$_\odot$/yr]", fontsize=14, color=LABEL)
    axr.yaxis.set_label_coords(1.152, 0.5)
    axr.text(9.27, name_ypos[i], name, transform=axr.get_xaxis_transform(),
             fontsize=11, color=LABEL, ha="left", va="center")

    for ax in (axl, axr):
        ax.set_xlabel("")
        for sp in ax.spines.values():
            sp.set_linewidth(2.6)
            sp.set_color(INK)

axes[-1, 0].set_xlabel(r"log$\lambda$ [$\AA$]", fontsize=14, color=LABEL)
axes[-1, 1].set_xlabel("t lookback [Gyr]", fontsize=14, color=LABEL)

fig.savefig("out.png", dpi=100)
